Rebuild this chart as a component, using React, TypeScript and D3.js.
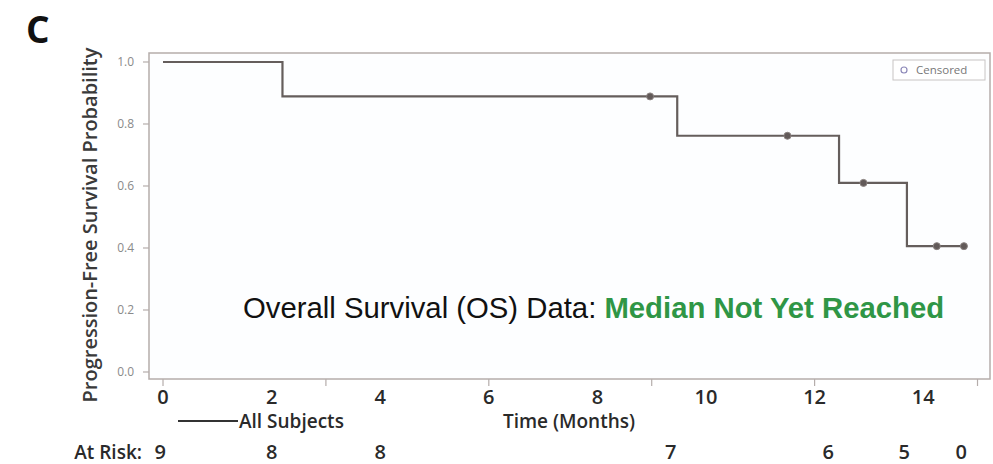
import React, { useEffect, useRef } from 'react';
import * as d3 from 'd3';

// Kaplan-Meier step curve: [time in months, survival probability]
const stepTimes = [0, 2.2, 9.47, 12.45, 13.7, 14.75];
const stepValues = [1.0, 0.889, 0.762, 0.61, 0.406, 0.406];

// censored observations
const censorTimes = [8.97, 11.5, 12.9, 14.25, 14.75];

const xTickLabels = [0, 2, 4, 6, 8, 10, 12, 14];
const xTickMarks = [0, 3, 6, 9, 12, 15];
const yTicks = [0, 0.2, 0.4, 0.6, 0.8, 1.0];

const atRiskTimes = [-0.05, 2, 4, 9.35, 12.25, 13.65, 14.7];
const atRiskCounts = [9, 8, 8, 7, 6, 5, 0];

function App() {
  const svgRef = useRef<SVGSVGElement>(null);

  useEffect(() => {
    const svg = d3.select(svgRef.current);
    const width = 993;
    const height = 464;
    svg.attr('width', width).attr('height', height);
    svg.selectAll('*').remove();

    const frame = { left: 149, top: 53, right: 990, bottom: 379 };

    const x = d3.scaleLinear().domain([-0.258, 15.23]).range([frame.left, frame.right]);
    const y = d3.scaleLinear().domain([-0.0226, 1.029]).range([frame.bottom, frame.top]);

    const labelFont = '"Open Sans", "DejaVu Sans", sans-serif';
    const frameColor = '#b5adab';
    const textColor = '#2a2a2a';

    svg.append('rect')
      .attr('width', width)
      .attr('height', height)
      .attr('fill', '#ffffff');

    // panel letter
    svg.append('text')
      .attr('x', 26)
      .attr('y', 43)
      .attr('font-family', labelFont)
      .attr('font-weight', 700)
      .attr('font-size', 37)
      .attr('fill', '#111')
      .text('C');

    // plot frame
    svg.append('rect')
      .attr('x', frame.left)
      .attr('y', frame.top)
      .attr('width', frame.right - frame.left)
      .attr('height', frame.bottom - frame.top)
      .attr('fill', '#fdfeff')
      .attr('stroke', frameColor)
      .attr('stroke-width', 1.5);

    // y ticks
    const yAxis = svg.append('g');
    yTicks.forEach((v) => {
      yAxis.append('line')
        .attr('x1', frame.left - 6)
        .attr('x2', frame.left)
        .attr('y1', y(v))
        .attr('y2', y(v))
        .attr('stroke', frameColor)
        .attr('stroke-width', 1.2);
      yAxis.append('text')
        .attr('x', frame.left - 15)
        .attr('y', y(v))
        .attr('dy', '0.35em')
        .attr('text-anchor', 'end')
        .attr('font-family', labelFont)
        .attr('font-size', 12)
        .attr('fill', '#8a8a8a')
        .text(v.toFixed(1));
    });

    // y title
    svg.append('text')
      .attr('transform', `translate(97, 225) rotate(-90)`)
      .attr('text-anchor', 'middle')
      .attr('font-family', labelFont)
      .attr('font-weight', 600)
      .attr('font-size', 20)
      .attr('fill', '#3a3a3a')
      .text('Progression-Free Survival Probability');

    // x tick marks
    xTickMarks.forEach((t) => {
      svg.append('line')
        .attr('x1', x(t))
        .attr('x2', x(t))
        .attr('y1', frame.bottom)
        .attr('y2', frame.bottom + 7)
        .attr('stroke', frameColor)
        .attr('stroke-width', 1.2);
    });

    // x tick labels
    xTickLabels.forEach((t) => {
      svg.append('text')
        .attr('x', x(t))
        .attr('y', 404)
        .attr('text-anchor', 'middle')
        .attr('font-family', labelFont)
        .attr('font-weight', 600)
        .attr('font-size', 20)
        .attr('fill', textColor)
        .text(t);
    });

    svg.append('text')
      .attr('x', 569)
      .attr('y', 428)
      .attr('text-anchor', 'middle')
      .attr('font-family', labelFont)
      .attr('font-weight', 600)
      .attr('font-size', 19)
      .attr('fill', textColor)
      .text('Time (Months)');

    // series legend
    svg.append('line')
      .attr('x1', 178)
      .attr('x2', 238)
      .attr('y1', 421)
      .attr('y2', 421)
      .attr('stroke', '#333')
      .attr('stroke-width', 2);
    svg.append('text')
      .attr('x', 239)
      .attr('y', 428)
      .attr('font-family', labelFont)
      .attr('font-weight', 600)
      .attr('font-size', 19)
      .attr('fill', textColor)
      .text('All Subjects');

    // at risk row
    svg.append('text')
      .attr('x', 142)
      .attr('y', 459)
      .attr('text-anchor', 'end')
      .attr('font-family', labelFont)
      .attr('font-weight', 600)
      .attr('font-size', 19)
      .attr('fill', textColor)
      .text('At Risk:');
    atRiskTimes.forEach((t, i) => {
      svg.append('text')
        .attr('x', x(t))
        .attr('y', 459)
        .attr('text-anchor', 'middle')
        .attr('font-family', labelFont)
        .attr('font-weight', 600)
        .attr('font-size', 20)
        .attr('fill', textColor)
        .text(atRiskCounts[i]);
    });

    // survival curve
    const pts: [number, number][] = stepTimes.map((t, i) => [t, stepValues[i]]);
    const line = d3.line<[number, number]>()
      .x((d) => x(d[0]))
      .y((d) => y(d[1]))
      .curve(d3.curveStepAfter);
    svg.append('path')
      .attr('d', line(pts))
      .attr('fill', 'none')
      .attr('stroke', '#655e5c')
      .attr('stroke-width', 2.2);

    // censor marks
    const survAt = (t: number) => {
      let v = stepValues[0];
      stepTimes.forEach((s, i) => { if (s <= t) v = stepValues[i]; });
      return v;
    };
    censorTimes.forEach((t) => {
      svg.append('circle')
        .attr('cx', x(t))
        .attr('cy', y(survAt(t)))
        .attr('r', 3.5)
        .attr('fill', '#625a59')
        .attr('stroke', '#8a8280')
        .attr('stroke-width', 1);
    });

    // censored legend
    svg.append('rect')
      .attr('x', 893)
      .attr('y', 60)
      .attr('width', 92)
      .attr('height', 20)
      .attr('fill', '#ffffff')
      .attr('stroke', '#c8c4c4')
      .attr('stroke-width', 1);
    svg.append('circle')
      .attr('cx', 904)
      .attr('cy', 70)
      .attr('r', 3)
      .attr('fill', 'none')
      .attr('stroke', '#8c88b8')
      .attr('stroke-width', 1.2);
    svg.append('text')
      .attr('x', 916)
      .attr('y', 74)
      .attr('font-family', labelFont)
      .attr('font-size', 11.5)
      .attr('fill', '#777')
      .text('Censored');

    // OS annotation
    const note = svg.append('text')
      .attr('x', 243)
      .attr('y', 318)
      .attr('font-family', '"Liberation Sans", Arial, sans-serif')
      .attr('font-size', 29.3)
      .attr('fill', '#111');
    note.append('tspan').text('Overall Survival (OS) Data: ');
    note.append('tspan')
      .attr('font-weight', 700)
      .attr('fill', '#2f9646')
      .text('Median Not Yet Reached');
  }, []);

  return <svg ref={svgRef} style={{ display: 'block', position: 'absolute', left: 0, top: 0 }} />;
}

export default App;
